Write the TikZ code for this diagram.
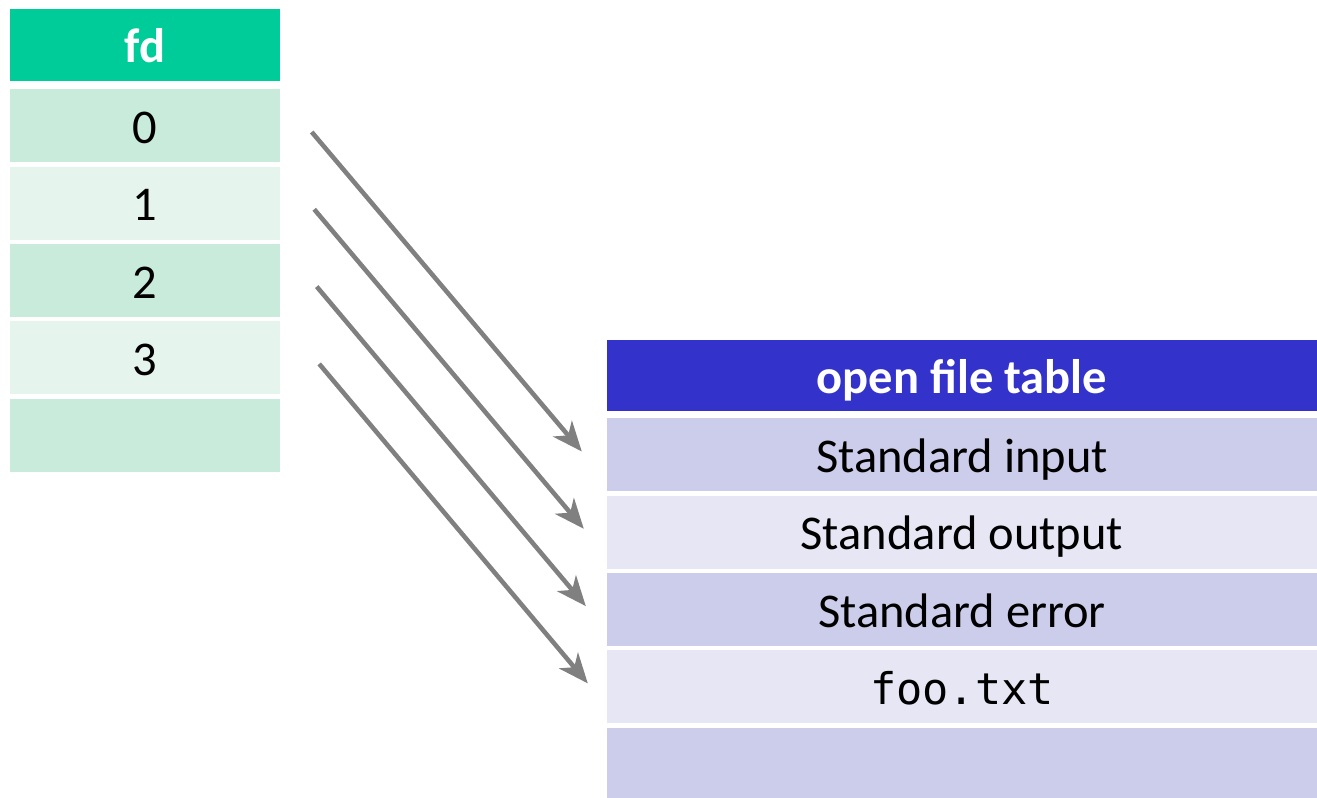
\documentclass[tikz,border=0pt]{standalone}
\usepackage{fontspec}
\setmainfont{Carlito}
\setmonofont{DejaVu Sans Mono}
\usepackage{tikz}
\usetikzlibrary{calc}
\usetikzlibrary{arrows.meta}

\definecolor{fdhead}{HTML}{00CC99}
\definecolor{fddark}{HTML}{C9EBDB}
\definecolor{fdlight}{HTML}{E6F4EE}
\definecolor{ofhead}{HTML}{3333CC}
\definecolor{ofdark}{HTML}{CCCCEB}
\definecolor{oflight}{HTML}{E6E6F4}
\definecolor{arrowgray}{HTML}{808080}

\begin{document}
\begin{tikzpicture}[
        cell/.style = {inner sep = 0pt, minimum height = 0.73cm, text height = 2.4ex, text depth = 0.3ex, font = \fontsize{13.8}{16}\selectfont},
        fdcell/.style = {cell, minimum width = 2.70cm},
        ofcell/.style = {cell, minimum width = 7.10cm},
        headcell/.style = {text = white, font = \fontsize{13.8}{16}\selectfont\bfseries},
        pointer/.style = {draw = arrowgray, line width = 1.3pt, -{Stealth[length = 8.5pt, width = 7pt, inset = 2.5pt]}}
    ]
        \useasboundingbox (0,0) rectangle (13.17,-7.98);
        \def\rowsep{0.773};

        % fd table
        \node[fdcell, headcell, fill = fdhead, minimum height = 0.72cm] (fdhead) at (1.45, -0.45){fd};
        \node[fdcell, fill = fddark] (fd0) at (1.45, -1.26){0};
        \node[fdcell, fill = fdlight] (fd1) at (1.45, -1.26 - \rowsep){1};
        \node[fdcell, fill = fddark] (fd2) at (1.45, -1.26 - 2 * \rowsep){2};
        \node[fdcell, fill = fdlight] (fd3) at (1.45, -1.26 - 3 * \rowsep){3};
        \node[fdcell, fill = fddark] (fd4) at (1.45, -1.26 - 4 * \rowsep){};

        % open file table
        \node[ofcell, headcell, fill = ofhead, minimum height = 0.71cm] (ofhead) at (9.62, -3.755){open file table};
        \node[ofcell, fill = ofdark] (of0) at (9.62, -4.55){Standard input};
        \node[ofcell, fill = oflight] (of1) at (9.62, -4.55 - \rowsep){Standard output};
        \node[ofcell, fill = ofdark] (of2) at (9.62, -4.55 - 2 * \rowsep){Standard error};
        \node[ofcell, fill = oflight] (of3) at (9.62, -4.55 - 3 * \rowsep){\fontsize{12.4}{15}\ttfamily foo.txt};
        \node[ofcell, fill = ofdark] (of4) at (9.62, -4.55 - 4 * \rowsep){};

        \foreach \i in {0,...,3}{
            \draw[pointer] ([xshift = 0.31cm + \i * 0.025cm, yshift = -0.06cm]fd\i.east) -- ([xshift = -0.245cm + \i * 0.02cm, yshift = 0.035cm]of\i.west);
        }
    \end{tikzpicture}
\end{document}
